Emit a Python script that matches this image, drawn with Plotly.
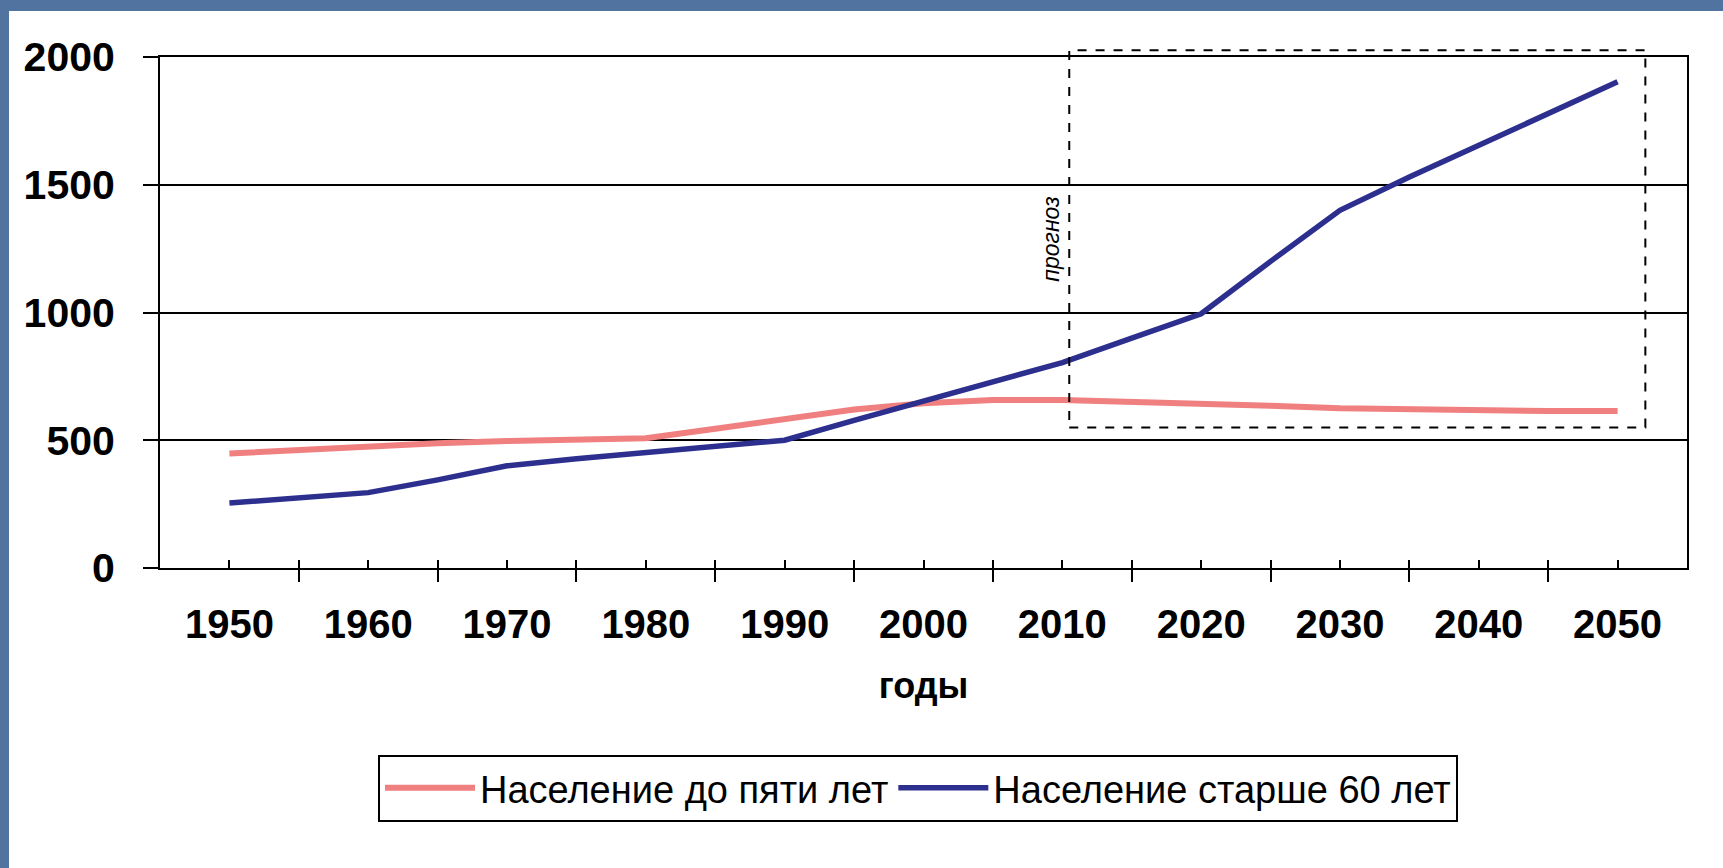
import plotly.graph_objects as go

# ---- data ----
years = [1950, 1955, 1960, 1965, 1970, 1975, 1980, 1985, 1990, 1995, 2000,
         2005, 2010, 2015, 2020, 2025, 2030, 2035, 2040, 2045, 2050]
under_five = [448, 462, 475, 488, 497, 502, 508, 545, 585, 620, 645,
              658, 658, 652, 645, 635, 625, 620, 615, 614, 614]
over_sixty = [254, 272, 295, 345, 400, 428, 452, 478, 500, 578, 655,
              730, 804, 900, 995, 1200, 1400, 1530, 1654, 1779, 1903]
series_names = ["Население до пяти лет", "Население старше 60 лет"]
label_years = [1950, 1960, 1970, 1980, 1990, 2000, 2010, 2020, 2030, 2040, 2050]
boundary_years = [1945, 1955, 1965, 1975, 1985, 1995, 2005, 2015, 2025, 2035, 2045, 2055]
y_ticks = [0, 500, 1000, 1500, 2000]
x_title = "годы"
forecast_label = "прогноз"
forecast_start, forecast_end = 2010.5, 2052
forecast_low, forecast_high = 550, 2026

X_MIN, X_MAX = 1945, 2055
Y_MIN, Y_MAX = 0, 2000

W, H = 1723, 868
L, R, T, B = 160, 36, 57, 300
PW, PH = W - L - R, H - T - B

def px2paper_x(px):
    return (px - L) / PW

def px2paper_y(py):
    return (H - B - py) / PH

PINK = "#F07F7F"
NAVY = "#2D2F8E"
BG_BLUE = "#50739F"

fig = go.Figure()
fig.add_trace(go.Scatter(x=years, y=under_five, mode="lines", name=series_names[0],
                         line=dict(color=PINK, width=6)))
fig.add_trace(go.Scatter(x=years, y=over_sixty, mode="lines", name=series_names[1],
                         line=dict(color=NAVY, width=5.5)))
# helper trace for second x axis (inner halves of crossing tick marks)
fig.add_trace(go.Scatter(x=[None], y=[None], xaxis="x2", showlegend=False,
                         hoverinfo="skip"))

fig.update_layout(
    width=W, height=H,
    margin=dict(l=L, r=R, t=T, b=B),
    paper_bgcolor=BG_BLUE,
    plot_bgcolor="white",
    font=dict(family="Liberation Sans, Arial, sans-serif", color="black"),
    showlegend=True,
    legend=dict(
        orientation="h",
        x=px2paper_x(918), xanchor="center",
        y=px2paper_y(788), yanchor="middle",
        bgcolor="white", bordercolor="black", borderwidth=2,
        font=dict(family="Liberation Sans, Arial", size=38, color="black"),
        itemwidth=90,
        tracegroupgap=0,
    ),
    xaxis=dict(
        range=[X_MIN, X_MAX],
        tickmode="array", tickvals=label_years, ticktext=[str(v) for v in label_years],
        ticks="inside", ticklen=8, tickwidth=2, tickcolor="black",
        minor=dict(tickmode="array", tickvals=boundary_years, ticks="outside",
                   ticklen=12, tickwidth=2, tickcolor="black", showgrid=False),
        showline=True, linecolor="black", linewidth=2, mirror=True,
        showgrid=False, zeroline=False,
        tickfont=dict(family="Liberation Sans, Arial", size=40, color="black",
                      weight="bold"),
        ticklabelstandoff=20,
        title=dict(text="<b>%s</b>" % x_title, standoff=28,
                   font=dict(family="Liberation Sans, Arial", size=36, color="black")),
    ),
    xaxis2=dict(
        range=[X_MIN, X_MAX], overlaying="x", anchor="y", side="bottom",
        tickmode="array", tickvals=boundary_years,
        ticks="inside", ticklen=8, tickwidth=2, tickcolor="black",
        showticklabels=False, showline=False, showgrid=False, zeroline=False,
    ),
    yaxis=dict(
        range=[Y_MIN, Y_MAX],
        tickmode="array", tickvals=y_ticks,
        ticks="outside", ticklen=15, tickwidth=2, tickcolor="black",
        showline=True, linecolor="black", linewidth=2, mirror=True,
        showgrid=True, gridcolor="black", gridwidth=2, zeroline=False,
        tickfont=dict(family="Liberation Sans, Arial", size=41, color="black",
                      weight="bold"),
        ticklabelstandoff=20,
    ),
    shapes=[
        # white slide panel
        dict(type="rect", xref="paper", yref="paper",
             x0=px2paper_x(9), x1=px2paper_x(W + 20),
             y0=px2paper_y(H + 20), y1=px2paper_y(11),
             fillcolor="white", line=dict(width=0), layer="below"),
        # forecast region
        dict(type="rect", xref="x", yref="paper",
             x0=forecast_start, x1=forecast_end,
             y0=forecast_low / Y_MAX, y1=forecast_high / Y_MAX,
             line=dict(color="black", width=2, dash="dash"),
             fillcolor="rgba(0,0,0,0)", layer="above"),
    ],
    annotations=[
        dict(x=forecast_start, y=1290, xref="x", yref="y",
             text="<i>%s</i>" % forecast_label, textangle=-90,
             showarrow=False, xanchor="right", yanchor="middle", xshift=-3,
             font=dict(family="Liberation Sans, Arial", size=23, color="black")),
    ],
)

fig.write_html("out.html", config={"displayModeBar": False},
               post_script="document.body.style.margin='0';")
